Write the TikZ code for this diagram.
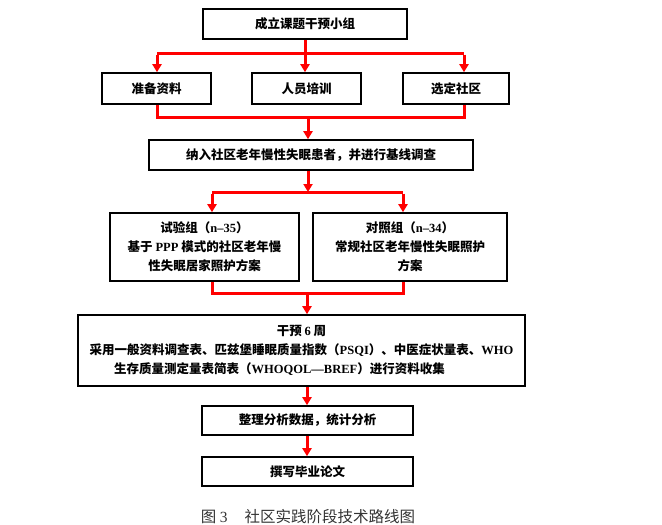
\documentclass[tikz,border=0pt]{standalone}
\usepackage{fontspec}
\setmainfont{Noto Sans CJK SC}
\newfontfamily\latfont{Liberation Serif}
\newcommand{\lat}[1]{{\latfont\bfseries #1}}
\usepackage{tikz}
\usetikzlibrary{arrows.meta,calc,positioning}

\begin{document}
\begin{tikzpicture}[x=1pt,y=-1pt,
    box/.style={draw=black, line width=1.6pt, align=center, inner sep=0pt,
      font=\fontsize{12.5}{19}\selectfont\bfseries},
    link/.style={red, line width=3pt},
    flow/.style={link, -{Triangle[width=9pt,length=8pt]}}]
  \useasboundingbox (0,0) rectangle (662,525);
  % boxes
  \node[box, minimum width=204pt, minimum height=30pt] (team) at (305,24) {成立课题干预小组};
  \node[box, minimum width=109pt, minimum height=31pt] (prep) at (156.5,88.5) {准备资料};
  \node[box, minimum width=109pt, minimum height=31pt] (train) at (306.5,88.5) {人员培训};
  \node[box, minimum width=106pt, minimum height=31pt] (site) at (456,88.5) {选定社区};
  \node[box, minimum width=324pt, minimum height=30pt] (enrol) at (311,155) {纳入社区老年慢性失眠患者，并进行基线调查};
  \node[box, minimum width=189pt, minimum height=68pt] (trial) at (204.5,247)
    {试验组（\lat{n–35}）\\基于 \lat{PPP} 模式的社区老年慢\\性失眠居家照护方案};
  \node[box, minimum width=194pt, minimum height=68pt] (ctrl) at (410,247)
    {对照组（\lat{n–34}）\\常规社区老年慢性失眠照护\\方案};
  \node[box, minimum width=447pt, minimum height=71pt] (care) at (301.5,350.5)
    {干预 \lat{6} 周\\采用一般资料调查表、匹兹堡睡眠质量指数（\lat{PSQI}）、中医症状量表、\lat{WHO}\\生存质量测定量表简表（\lat{WHOQOL—BREF}）进行资料收集\hspace*{44pt}};
  \node[box, minimum width=211pt, minimum height=29pt] (stat) at (307.5,420.5) {整理分析数据，统计分析};
  \node[box, minimum width=211pt, minimum height=29pt] (thesis) at (307.5,471.5) {撰写毕业论文};
  % caption
  \node[black!80, font=\fontsize{15.5}{17}\selectfont] (cap) at (308,517) {图 {\latfont 3}\hspace{1.1em}社区实践阶段技术路线图};

  % team -> three tasks
  \coordinate (a1) at (157,53);
  \coordinate (a2) at (464,53);
  \draw[link] (a1) -- (a2);
  \draw[flow] (team.south) -- (team.south |- train.north);
  \draw[flow] ([yshift=-1.5pt]a1) -- (a1 |- prep.north);
  \draw[flow] ([yshift=-1.5pt]a2) -- (a2 |- site.north);
  % three tasks -> enrol
  \coordinate (b1) at (157,117);
  \coordinate (b2) at (464,117);
  \coordinate (b0) at (308,117);
  \draw[link, line join=miter] (b1 |- prep.south) -- (b1) -- (b2) -- (b2 |- site.south);
  \draw[flow] (b0) -- (b0 |- enrol.north);
  % enrol -> two groups
  \coordinate (c1) at (212,192);
  \coordinate (c2) at (403,192);
  \draw[link] (c1) -- (c2);
  \draw[flow] (enrol.south -| b0) -- (b0 |- c1);
  \draw[flow] ([yshift=-1.5pt]c1) -- (c1 |- trial.north);
  \draw[flow] ([yshift=-1.5pt]c2) -- (c2 |- ctrl.north);
  % two groups -> care
  \coordinate (d1) at (212,293);
  \coordinate (d2) at (403,293);
  \coordinate (d0) at (307,293);
  \draw[link, line join=miter] (d1 |- trial.south) -- (d1) -- (d2) -- (d2 |- ctrl.south);
  \draw[flow] (d0) -- (d0 |- care.north);
  % care -> stat -> thesis
  \draw[flow] (care.south -| d0) -- (d0 |- stat.north);
  \draw[flow] (stat.south -| d0) -- (d0 |- thesis.north);
\end{tikzpicture}
\end{document}
